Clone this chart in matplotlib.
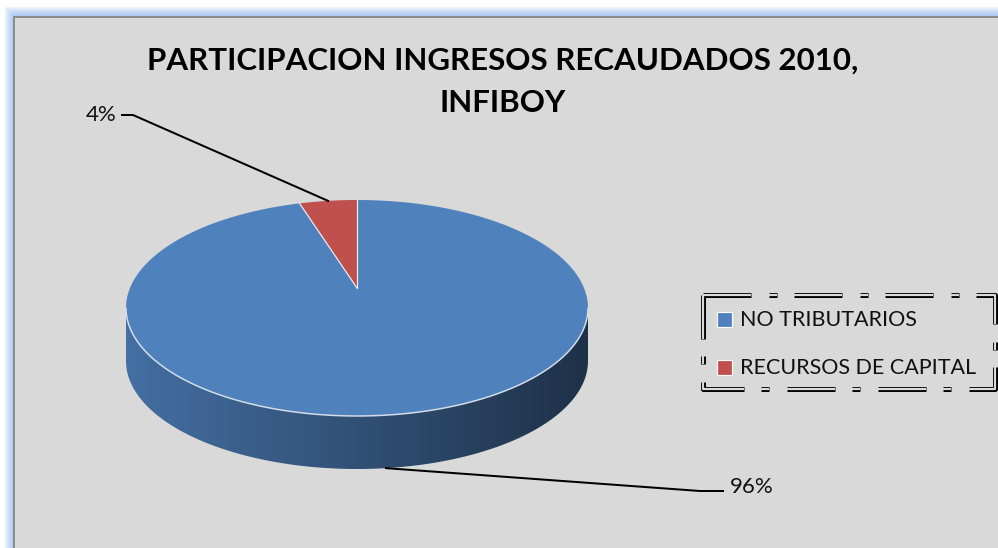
import numpy as np
import matplotlib
matplotlib.use("Agg")
import matplotlib.pyplot as plt
from matplotlib.patches import Polygon, Rectangle
from matplotlib.lines import Line2D

plt.rcParams["lines.scale_dashes"] = False

# Datos del grafico
categorias = ["NO TRIBUTARIOS", "RECURSOS DE CAPITAL"]
valores = [96, 4]
colores = ["#4F81BD", "#C0504D"]
titulo = "PARTICIPACION INGRESOS RECAUDADOS 2010,\nINFIBOY"

# Geometria del pastel 3D (en pixeles)
cx, cy = 357, 308
rx, ry = 231, 108
prof = 53
apex_dy = -20
PX = 0.72  # pixel -> puntos a 100 dpi

fig = plt.figure(figsize=(9.98, 5.48), dpi=100)
fig.patch.set_facecolor("white")
ax = fig.add_axes([0, 0, 1, 1])
ax.set_xlim(0, 998)
ax.set_ylim(548, 0)
ax.axis("off")

# Marco del grafico con brillo azul
for k in range(9, 0, -1):
    ax.add_patch(Rectangle((14 - k, 16 - k), 1000, 600, facecolor="none",
                           edgecolor="#9cc0ee", lw=1.4 * PX,
                           alpha=0.12 + 0.08 * (9 - k)))
ax.add_patch(Rectangle((14.5, 16.5), 1000, 600, facecolor="#D9D9D9",
                       edgecolor="#8C8C8C", lw=2 * PX))

fuente_titulo = ["Lato", "DejaVu Sans"]
fuente_texto = ["Lato", "DejaVu Sans"]

ax.text(503, 47, titulo, ha="center", va="top", fontsize=22.5,
        fontweight="bold", family=fuente_titulo, linespacing=1.62)


def borde(phi):
    phi = np.radians(phi)
    return cx + rx * np.sin(phi), cy - ry * np.cos(phi)


total = sum(valores)
angulos = np.cumsum([0] + [v / total * 360 for v in valores])

# Lateral del cilindro (solo la mitad frontal)
for i, col in enumerate(colores):
    a0, a1 = max(angulos[i], 90), min(angulos[i + 1], 270)
    if a1 <= a0:
        continue
    phi = np.linspace(a0, a1, 200)
    x, y = borde(phi)
    pts = np.vstack([np.column_stack([x, y]),
                     np.column_stack([x[::-1], y[::-1] + prof])])
    poly = Polygon(pts, closed=True, facecolor="none", edgecolor="none")
    ax.add_patch(poly)
    base = np.array(matplotlib.colors.to_rgb(col))
    f = np.linspace(0.86, 0.38, 256)
    grad = (base[None, :] * f[:, None])[None, :, :]
    im = ax.imshow(grad, extent=(cx - rx, cx + rx, cy + ry + prof, cy - ry),
                   aspect="auto", interpolation="bilinear", zorder=2)
    im.set_clip_path(poly)

# Cara superior
apex = (cx, cy + apex_dy)
for i, col in enumerate(colores):
    phi = np.linspace(angulos[i], angulos[i + 1], 300)
    x, y = borde(phi)
    pts = np.vstack([[apex], np.column_stack([x, y])])
    ax.add_patch(Polygon(pts, closed=True, facecolor=col, edgecolor="none",
                         zorder=3))
for a in angulos[:-1]:
    bx, by = borde(a)
    ax.plot([apex[0], bx], [apex[1], by], color="#e8eef6", lw=1.2 * PX,
            zorder=4)
phi = np.linspace(90, 270, 300)
x, y = borde(phi)
ax.plot(x, y, color="#d4dde8", lw=1.5 * PX, zorder=4)

# Etiquetas de porcentaje con lineas guia
etiq_pos = [(730, 487, "left"), (117, 115, "right")]
codo = [(700, 491), (133, 115)]
fin = [(723, 491), (122, 115)]
for i, v in enumerate(valores):
    mid = (angulos[i] + angulos[i + 1]) / 2
    ax_, ay_ = borde(mid)
    if 90 < mid < 270:
        ay_ += prof
    ax.plot([ax_, codo[i][0], fin[i][0]], [ay_, codo[i][1], fin[i][1]],
            color="black", lw=2 * PX, zorder=5)
    tx, ty, ha = etiq_pos[i]
    ax.text(tx, ty, f"{v / total * 100:.0f}%", ha=ha, va="center",
            fontsize=16, family=fuente_texto, color="#111111", zorder=5)

# Leyenda
ley_y = [319.5, 367.5]
for i, cat in enumerate(categorias):
    ax.add_patch(Rectangle((717, ley_y[i] - 7.5), 15, 15, facecolor=colores[i],
                           edgecolor="white", lw=1.2 * PX, zorder=5))
    ax.text(740, ley_y[i], cat, ha="left", va="center", fontsize=15.5,
            family=fuente_texto, color="#111111", zorder=5)

bx = [703, 995, 995, 703, 703]
by = [295, 295, 389, 389, 295]
patron = (48 * PX, 18 * PX, 8 * PX, 17 * PX)
for lw, col in [(5, "black"), (2.2, "#D9D9D9")]:
    ln = Line2D(bx, by, color=col, lw=lw * PX, solid_capstyle="butt",
                dash_capstyle="butt", zorder=6)
    ln.set_dashes(patron)
    ax.add_line(ln)

ax.set_xlim(0, 998)
ax.set_ylim(548, 0)
fig.savefig("out.png", dpi=100)
